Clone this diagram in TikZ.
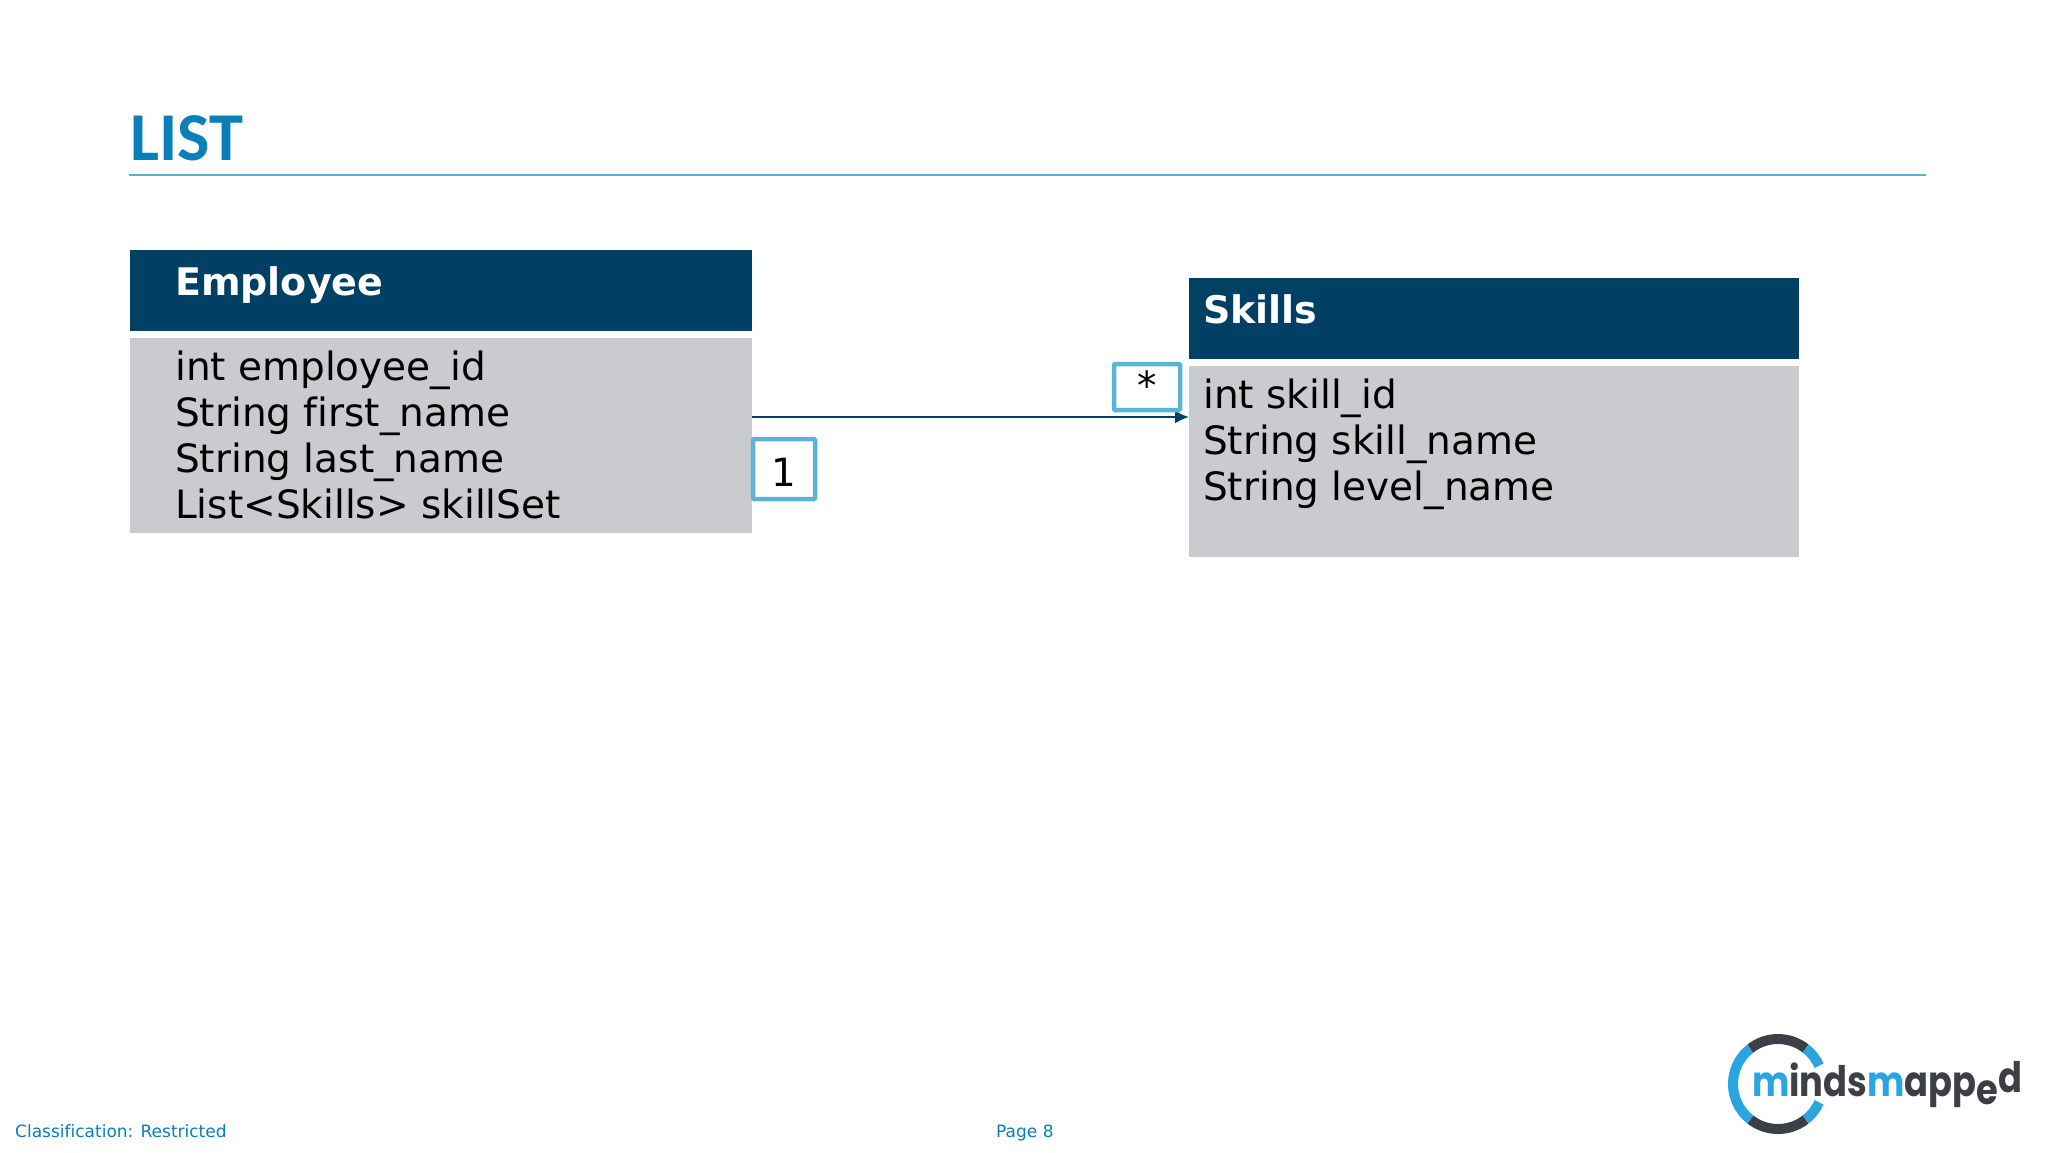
\documentclass[tikz,border=0pt]{standalone}
\usepackage{fontspec}
\setmainfont{DejaVu Sans}[Ligatures=NoCommon]
\newfontfamily\titlefont{Carlito}
\newfontfamily\logofont{Poppins}
\usetikzlibrary{arrows.meta}
\definecolor{hdr}{HTML}{004065}
\definecolor{bodygray}{HTML}{C9CBCE}
\definecolor{titleblue}{HTML}{0A7FBA}
\definecolor{rulecol}{HTML}{5AAFD6}
\definecolor{boxcol}{HTML}{5BB4D5}
\definecolor{logoblue}{HTML}{2BA5E0}
\definecolor{logodark}{HTML}{3C3F46}
\tikzset{
  hbox/.style={fill=hdr,draw=none,inner sep=0pt,outer sep=0pt},
  bbox/.style={fill=bodygray,draw=none,inner sep=0pt,outer sep=0pt},
  hlabel/.style={anchor=base west,inner sep=0pt,text=white,font=\fontsize{38}{38}\selectfont\bfseries},
  blabel/.style={anchor=north west,inner sep=0pt,align=left,text=black,font=\fontsize{39}{45.8}\selectfont},
  mult/.style={draw=boxcol,line width=4.5pt,fill=white,inner sep=0pt,outer sep=0pt,rounded corners=1pt},
  multtext/.style={inner sep=0pt,text=black,font=\fontsize{38.8}{38.8}\selectfont},
  foot/.style={anchor=base west,inner sep=0pt,text=titleblue,font=\fontsize{17}{17}\selectfont},
  logoarc/.style={line width=10pt},
  logotext/.style={anchor=base west,inner sep=0pt,font=\logofont\fontsize{42}{42}\selectfont\bfseries},
}
\begin{document}
\begin{tikzpicture}[x=1pt,y=-1pt]
\useasboundingbox (0,0) rectangle (2048,1152);
\fill[white] (0,0) rectangle (2048,1152);
\node[anchor=base west,inner sep=0pt,text=titleblue,font=\titlefont\fontsize{68.5}{68.5}\selectfont\bfseries] (title) at (130,160) {LIST};
\coordinate (ruleL) at (129,175);
\coordinate (ruleR) at (1926,175);
\draw[rulecol,line width=1.5pt] (ruleL) -- (ruleR);

\node[hbox,minimum width=622pt,minimum height=81pt] (emph) at (441,290.5) {};
\node[bbox,minimum width=622pt,minimum height=195pt] (empb) at (441,435.5) {};
\node[hlabel] (empt) at (175,295) {Employee};
\node[blabel] (empl) at (175,351) {int employee\_id\\String first\_name\\String last\_name\\List<Skills> skillSet};

\node[hbox,minimum width=610pt,minimum height=81pt] (skh) at (1494,318.5) {};
\node[bbox,minimum width=610pt,minimum height=191pt] (skb) at (1494,461.5) {};
\node[hlabel] (skt) at (1203,323) {Skills};
\node[blabel] (skl) at (1203,379) {int skill\_id\\String skill\_name\\String level\_name};

\draw[hdr,line width=2.2pt,-{Latex[length=14pt,width=13pt]}] ([yshift=18.5pt]empb.east) -- ([yshift=44.5pt]skb.west);

\node[mult,minimum width=62pt,minimum height=60pt] (one) at (784,469) {};
\node[multtext] (onet) at (784,472) {1};
\node[mult,minimum width=66pt,minimum height=46pt] (star) at (1147,387) {};
\node[multtext] (start) at (1147,385) {*};

\node[foot] (fl) at (15,1137) {Classification: Restricted};
\node[foot] (fc) at (996,1137) {Page 8};

\coordinate (lc) at (1778,1084);
\draw[logodark,logoarc] (lc) ++(52:45) arc (52:128:45);
\draw[logoblue,logoarc] (lc) ++(128:45) arc (128:232:45);
\draw[logodark,logoarc] (lc) ++(232:45) arc (232:308:45);
\draw[logoblue,logoarc] (lc) ++(52:45) arc (52:24:45);
\draw[logoblue,logoarc] (lc) ++(-52:45) arc (-52:-24:45);
\node[logotext] (logo) at (1752,1096) {\scalebox{0.84}[1]{\textcolor{logoblue}{m}\textcolor{logodark}{inds}\textcolor{logoblue}{m}\textcolor{logodark}{app\raisebox{-8pt}{e}\raisebox{4pt}{d}}}};
\end{tikzpicture}
\end{document}
